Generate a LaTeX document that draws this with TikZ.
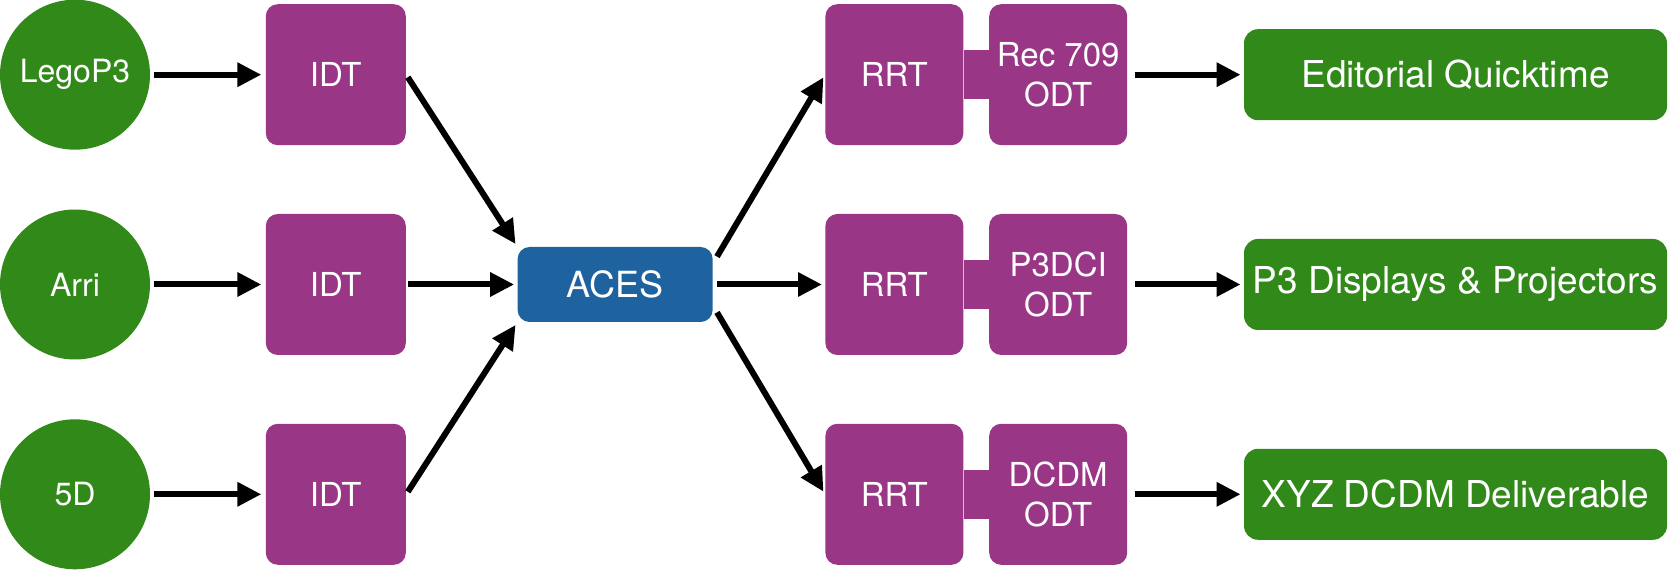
\documentclass[tikz,border=0pt]{standalone}
\usepackage{fontspec}
\setmainfont{TeX Gyre Heros}
\usepackage{tikz}
\usetikzlibrary{arrows.meta,positioning}
\definecolor{srcgreen}{RGB}{49,137,25}
\definecolor{idtpurple}{RGB}{153,54,134}
\definecolor{acesblue}{RGB}{30,98,160}
\tikzset{
  source/.style={
    circle,
    fill=srcgreen,
    text=white,
    minimum size=75pt,
    inner sep=0pt,
    font=\fontsize{16}{20}\selectfont
  },
  transform/.style={
    rounded corners=6pt,
    fill=idtpurple,
    text=white,
    align=center,
    minimum width=70pt,
    minimum height=70.5pt,
    inner sep=0pt,
    font=\fontsize{16.5}{20}\selectfont
  },
  odtbox/.style={
    transform,
    minimum width=69pt
  },
  acesbox/.style={
    rounded corners=6pt,
    fill=acesblue,
    text=white,
    minimum width=97.5pt,
    minimum height=37.5pt,
    inner sep=0pt,
    font=\fontsize{18}{20}\selectfont
  },
  target/.style={
    rounded corners=7pt,
    fill=srcgreen,
    text=white,
    minimum width=211.5pt,
    minimum height=45.5pt,
    inner sep=0pt,
    font=\fontsize{18.5}{22}\selectfont
  },
  flow/.style={-{Triangle[length=12pt,width=11.5pt]}, line width=3pt, draw=black},
  link/.style={line width=24.5pt, draw=idtpurple}
}

\begin{document}
\begin{tikzpicture}[node distance=34pt and 56pt]
\useasboundingbox (-37.5pt,-143.25pt) rectangle (796.5pt,142.25pt);
\node[source] (arri) {Arri};
\node[transform, right=57.5pt of arri] (idt2) {IDT};
\node[transform, above=of idt2] (idt1) {IDT};
\node[transform, below=of idt2] (idt3) {IDT};
\node[source, left=57.5pt of idt1] (lego) {LegoP3};
\node[source, left=57.5pt of idt3] (fived) {5D};
\node[acesbox, right=55.5pt of idt2] (aces) {ACES};
\node[odtbox, right=of aces] (rrt2) {RRT};
\node[odtbox, above=of rrt2] (rrt1) {RRT};
\node[odtbox, below=of rrt2] (rrt3) {RRT};
\node[odtbox, right=12.5pt of rrt1] (odt1) {Rec 709\\ODT};
\node[odtbox, right=12.5pt of rrt2] (odt2) {P3DCI\\ODT};
\node[odtbox, right=12.5pt of rrt3] (odt3) {DCDM\\ODT};
\node[target, right=58pt of odt1] (edit) {Editorial Quicktime};
\node[target, right=58pt of odt2] (disp) {P3 Displays \& Projectors};
\node[target, right=58pt of odt3] (dcdm) {XYZ DCDM Deliverable};

\draw[link] (rrt1.east) -- (odt1.west);
\draw[link] (rrt2.east) -- (odt2.west);
\draw[link] (rrt3.east) -- (odt3.west);

\draw[flow, shorten <=2pt, shorten >=2pt] (lego) -- (idt1);
\draw[flow, shorten <=2pt, shorten >=2pt] (arri) -- (idt2);
\draw[flow, shorten <=2pt, shorten >=2pt] (fived) -- (idt3);
\draw[flow, shorten <=1.5pt, shorten >=1.5pt] (idt1.east) -- (aces.north west);
\draw[flow, shorten <=1pt, shorten >=1.5pt] (idt2) -- (aces);
\draw[flow, shorten <=1.5pt, shorten >=1.5pt] (idt3.east) -- (aces.south west);
\draw[flow, shorten >=1.5pt] ([shift={(2pt,-5pt)}]aces.north east) -- (rrt1.west);
\draw[flow, shorten <=2pt, shorten >=1.5pt] (aces) -- (rrt2);
\draw[flow, shorten >=1.5pt] ([shift={(2pt,5pt)}]aces.south east) -- (rrt3.west);
\draw[flow, shorten <=3.5pt, shorten >=1.5pt] (odt1) -- (edit);
\draw[flow, shorten <=3.5pt, shorten >=1.5pt] (odt2) -- (disp);
\draw[flow, shorten <=3.5pt, shorten >=1.5pt] (odt3) -- (dcdm);
\end{tikzpicture}
\end{document}
